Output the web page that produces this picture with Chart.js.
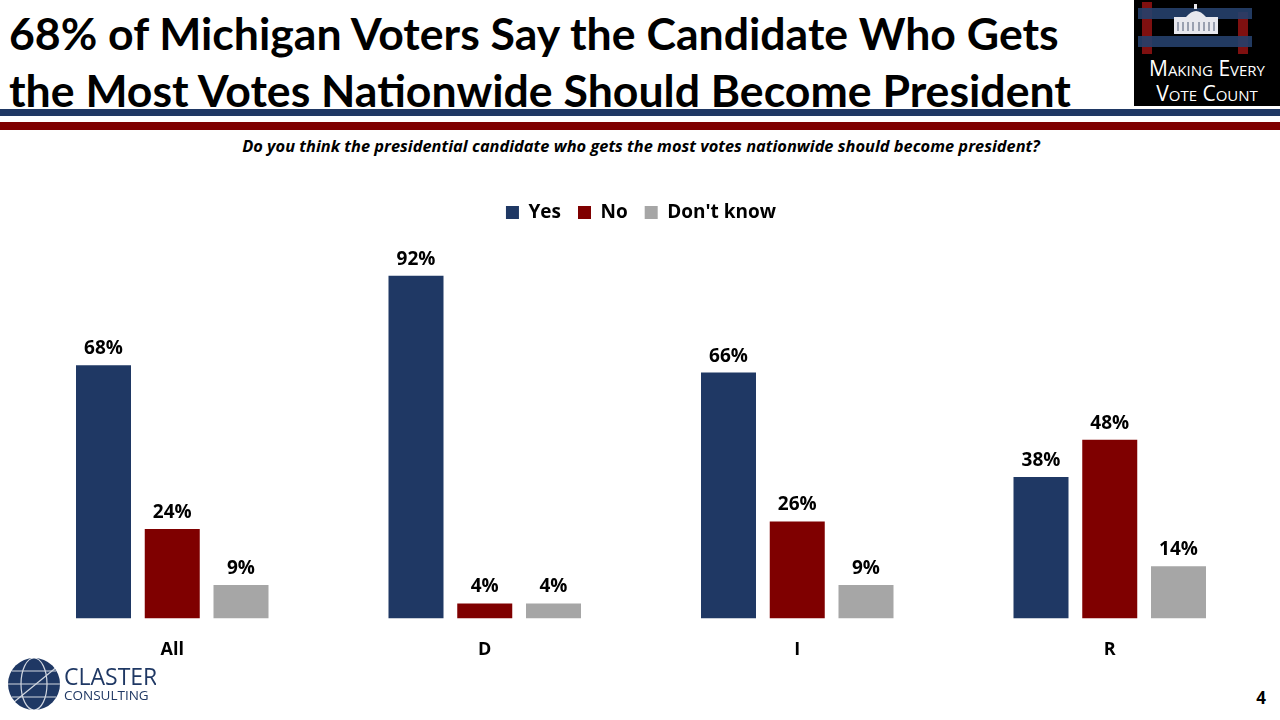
<!DOCTYPE html>
<html>
<head>
<meta charset="utf-8">
<script src="https://cdn.jsdelivr.net/npm/chart.js@4/dist/chart.umd.min.js"></script>
<style>
  html, body { margin: 0; padding: 0; background: #fff; }
  body { width: 1280px; height: 720px; position: relative; overflow: hidden; font-family: "Open Sans", "Noto Sans", sans-serif; }
  .title { position: absolute; left: 9px; top: 4px; font-family: Lato, sans-serif; font-weight: 700; font-size: 44.6px; line-height: 57px; color: #000; }
  .bar-blue { position: absolute; left: 0; top: 109px; width: 1280px; height: 7px; background: #1F3864; }
  .bar-red { position: absolute; left: 0; top: 122px; width: 1280px; height: 8px; background: #7F0000; }
  .subtitle { position: absolute; left: 0; width: 1282px; top: 134px; text-align: center; font-family: "Open Sans", sans-serif; font-weight: 700; font-style: italic; font-size: 16.4px; color: #000; }
  .logo { position: absolute; left: 1134px; top: 0; width: 146px; height: 106px; background: #000; }
  .logo .txt { position: absolute; left: 0; width: 146px; text-align: center; color: #fff; font-family: "Open Sans", sans-serif; font-size: 21px; font-variant: small-caps; line-height: 24px; }
  .page { position: absolute; right: 14px; top: 686px; font-weight: 700; font-size: 17px; font-family: "Open Sans", sans-serif; }
  #wrap { position: absolute; left: 16px; top: 186px; width: 1250px; height: 488px; }
  .claster { position: absolute; left: 6px; top: 652px; }
</style>
</head>
<body>
<div class="title">68% of Michigan Voters Say the Candidate Who Gets<br>the Most Votes Nationwide Should Become President</div>
<div class="logo">
  <svg width="146" height="60" style="position:absolute;left:0;top:0">
    <rect x="8" y="2" width="10" height="52" fill="#7F1010"/>
    <rect x="104" y="12" width="10" height="42" fill="#7F1010"/>
    <rect x="4" y="8" width="114" height="11" fill="#26406c" opacity="0.9"/>
    <rect x="4" y="36" width="114" height="11" fill="#26406c" opacity="0.9"/>
    <rect x="40" y="17" width="44" height="17" fill="#e8e8ee"/>
    <path d="M52 17 Q62 5 72 17 Z" fill="#e8e8ee"/>
    <rect x="60" y="4" width="3" height="5" fill="#e8e8ee"/>
    <g fill="#9aa0b0">
      <rect x="43" y="22" width="2" height="9"/><rect x="48" y="22" width="2" height="9"/>
      <rect x="53" y="22" width="2" height="9"/><rect x="58" y="22" width="2" height="9"/>
      <rect x="64" y="22" width="2" height="9"/><rect x="69" y="22" width="2" height="9"/>
      <rect x="74" y="22" width="2" height="9"/><rect x="79" y="22" width="2" height="9"/>
    </g>
  </svg>
  <div class="txt" style="top:56px">Making Every</div>
  <div class="txt" style="top:81px">Vote Count</div>
</div>
<div class="bar-blue"></div>
<div class="bar-red"></div>
<div class="subtitle">Do you think the presidential candidate who gets the most votes nationwide should become president?</div>
<div id="wrap"><canvas id="chart"></canvas></div>
<div class="claster">
  <svg width="150" height="62">
    <circle cx="28" cy="32" r="26" fill="#1F3864"/>
    <g stroke="#fff" stroke-width="1.2" fill="none" opacity="0.8">
      <ellipse cx="28" cy="32" rx="13" ry="26"/>
      <line x1="2" y1="32" x2="54" y2="32"/>
      <line x1="6" y1="19" x2="50" y2="19"/>
      <line x1="6" y1="45" x2="50" y2="45"/>
      <line x1="8" y1="50" x2="52" y2="14"/>
    </g>
    <text x="58" y="33" font-family="Open Sans, sans-serif" font-size="23" fill="#1F3864">CLASTER</text>
    <text x="58" y="48" font-family="Open Sans, sans-serif" font-size="13.5" fill="#1F3864">CONSULTING</text>
  </svg>
</div>
<div class="page">4</div>
<script>
const categories = ['All', 'D', 'I', 'R'];
const seriesNames = ['Yes', 'No', "Don't know"];
const yesValues = [68, 92, 66, 38];
const noValues = [24, 4, 26, 48];
const dontKnowValues = [9, 4, 9, 14];
const seriesColors = ['#1F3864', '#7F0000', '#A6A6A6'];

const valueLabels = {
  id: 'valueLabels',
  afterDatasetsDraw(chart) {
    const ctx = chart.ctx;
    ctx.save();
    ctx.font = 'bold 19px "Open Sans", sans-serif';
    ctx.fillStyle = '#000';
    ctx.textAlign = 'center';
    ctx.textBaseline = 'bottom';
    chart.data.datasets.forEach((ds, i) => {
      chart.getDatasetMeta(i).data.forEach((bar, j) => {
        ctx.fillText(ds.data[j] + '%', bar.x, bar.y - 7);
      });
    });
    ctx.restore();
  }
};

// extra gap between legend and bars
const legendGap = {
  id: 'legendGap',
  beforeInit(chart) {
    const fit = chart.legend.fit;
    chart.legend.fit = function () {
      fit.bind(chart.legend)();
      this.height += 14;
    };
  }
};

new Chart(document.getElementById('chart').getContext('2d'), {
  type: 'bar',
  data: {
    labels: categories,
    datasets: [
      { label: seriesNames[0], data: yesValues, backgroundColor: seriesColors[0] },
      { label: seriesNames[1], data: noValues, backgroundColor: seriesColors[1] },
      { label: seriesNames[2], data: dontKnowValues, backgroundColor: seriesColors[2] }
    ]
  },
  options: {
    responsive: true,
    maintainAspectRatio: false,
    animation: false,
    categoryPercentage: 0.66,
    barPercentage: 0.8,
    plugins: {
      legend: {
        position: 'top',
        labels: {
          boxWidth: 13, boxHeight: 13, padding: 17, color: '#000',
          font: { family: '"Open Sans", sans-serif', size: 19, weight: 'bold' }
        }
      },
      tooltip: { enabled: false }
    },
    scales: {
      x: {
        grid: { display: false },
        border: { display: false },
        ticks: { color: '#000', padding: 13, font: { family: '"Open Sans", sans-serif', size: 18, weight: 'bold' } }
      },
      y: { display: false, min: 0, max: 100 }
    }
  },
  plugins: [valueLabels, legendGap]
});
</script>
</body>
</html>
